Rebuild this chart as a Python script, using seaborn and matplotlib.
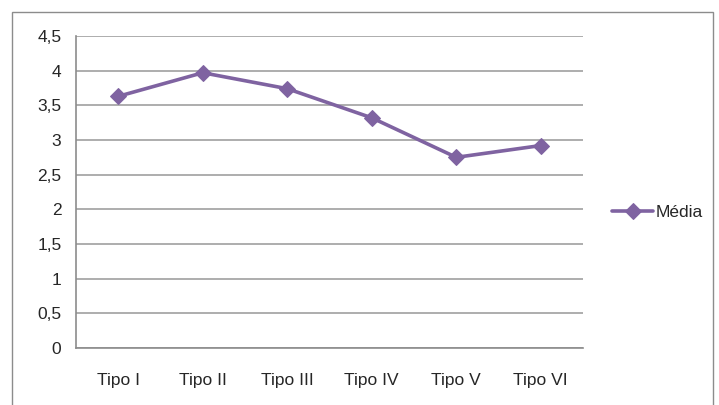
import pandas as pd
import numpy as np
import matplotlib
matplotlib.use("Agg")
import matplotlib.pyplot as plt
import seaborn as sns
from matplotlib.patches import Rectangle

tipos = ["Tipo I", "Tipo II", "Tipo III", "Tipo IV", "Tipo V", "Tipo VI"]
media = [3.63, 3.97, 3.74, 3.32, 2.75, 2.92]
yticks = [0, 0.5, 1, 1.5, 2, 2.5, 3, 3.5, 4, 4.5]

sns.set_style("white")
plt.rcParams['font.family'] = ['Liberation Sans', 'DejaVu Sans']

df = pd.DataFrame({"tipo": tipos, "media": media, "pos": np.arange(len(tipos))})

fig = plt.figure(figsize=(7.19, 4.05), dpi=100)
ax = fig.add_axes([76 / 719, 1 - 348 / 405, (583 - 76) / 719, (348 - 36) / 405])

purple = "#7F63A1"
sns.lineplot(data=df, x="pos", y="media", ax=ax, color=purple, linewidth=2.6,
             marker="D", markersize=8.5, markeredgecolor=purple, label="Média")

ax.set_xlim(-0.5, len(tipos) - 0.5)
ax.set_ylim(0, 4.5)
ax.set_yticks(yticks)
ax.set_yticklabels([f"{v:g}".replace(".", ",") for v in yticks])
ax.yaxis.grid(True, color="#A0A0A0", linewidth=1.2)
ax.xaxis.grid(False)

ax.set_xticks(np.arange(len(tipos)))
ax.set_xticklabels(tipos)
ax.set_xticks(np.arange(len(tipos) + 1) - 0.5, minor=True)
ax.tick_params(axis="x", which="major", length=0, pad=18, labelsize=12.5)
ax.tick_params(axis="x", which="minor", length=4, width=1.2, color="#8C8C8C", direction="out")
ax.tick_params(axis="y", length=4.5, width=1.2, color="#8C8C8C", direction="out", labelsize=12.5, pad=6)

for s in ["top", "right"]:
    ax.spines[s].set_visible(False)
for s in ["left", "bottom"]:
    ax.spines[s].set_color("#8C8C8C")
    ax.spines[s].set_linewidth(1.2)

ax.set_xlabel("")
ax.set_ylabel("")

leg = ax.legend(loc="center left", bbox_to_anchor=(1.043, 0.433), frameon=False,
                fontsize=12.5, handlelength=2.4, handletextpad=0.1, borderaxespad=0)

fig.patches.append(Rectangle((12 / 719, -0.05), (713 - 12) / 719, 1.05 - 12 / 405,
                             transform=fig.transFigure, fill=False,
                             edgecolor="#8C8C8C", linewidth=1.0))

fig.savefig("out.png", dpi=100)
